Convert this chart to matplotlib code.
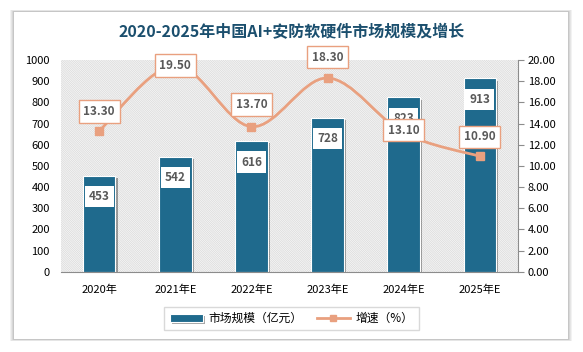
import matplotlib
matplotlib.use("Agg")
import matplotlib.pyplot as plt
import matplotlib.patheffects as pe
from matplotlib.patches import Rectangle
from matplotlib.path import Path
from matplotlib.patches import PathPatch
import numpy as np

plt.rcParams['font.family'] = ['Noto Sans CJK SC', 'DejaVu Sans']
plt.rcParams['hatch.linewidth'] = 0.5

categories = ['2020年', '2021年E', '2022年E', '2023年E', '2024年E', '2025年E']
market_size = [453, 542, 616, 728, 823, 913]
growth = [13.30, 19.50, 13.70, 18.30, 13.10, 10.90]

bar_color = '#1F6A8D'
line_color = '#E9A07F'
label_gray = '#595959'

fig = plt.figure(figsize=(5.83, 3.52), dpi=100)
fig.patch.set_facecolor('white')

# card with soft shadow
for i, a in enumerate([0.05, 0.05, 0.06, 0.08]):
    off = (4 - i) / 583
    fig.patches.append(Rectangle((14 / 583 - off, 13 / 352 - off), 554 / 583 + 2 * off, 327 / 352 + 2 * off,
                                 transform=fig.transFigure, facecolor='black', alpha=a, edgecolor='none', zorder=0))
fig.patches.append(Rectangle((14 / 583, 13 / 352), 554 / 583, 327 / 352, transform=fig.transFigure,
                             facecolor='white', edgecolor='none', zorder=1))

ax = fig.add_axes([61 / 583, 1 - 271.7 / 352, 457 / 583, 211.7 / 352])
ax.set_zorder(2)
ax.patch.set_visible(False)
bg = Rectangle((0, 0), 1, 1, transform=ax.transAxes, facecolor='white', edgecolor='#d6d6d6',
               hatch='\\' * 18, linewidth=0, zorder=0)
ax.add_patch(bg)

x = np.arange(len(categories))
bars = ax.bar(x, market_size, width=0.43, color=bar_color, edgecolor='white', linewidth=0.8, zorder=2,
              label='市场规模（亿元）')
for b in bars:
    b.set_path_effects([pe.SimplePatchShadow(offset=(1.5, -1.5), shadow_rgbFace='black', alpha=0.35), pe.Normal()])
for xi, v in zip(x, market_size):
    ax.annotate(f'{v}', (xi, v), xytext=(0, -15), textcoords='offset points', ha='center', va='center',
                fontsize=8.5, fontweight='bold', color=label_gray, zorder=5,
                bbox=dict(boxstyle='square,pad=0.35', facecolor='white', edgecolor='none'))

ax.set_xlim(-0.5, len(categories) - 0.5)
ax.set_ylim(0, 1000)
ax.set_yticks(range(0, 1001, 100))
ax.set_xticks(x)
ax.set_xticklabels(categories)
ax.tick_params(axis='y', length=0, labelsize=8, pad=8, colors='#000000')
ax.tick_params(axis='x', length=0, labelsize=8, pad=9)
for s in ['top', 'left', 'right']:
    ax.spines[s].set_visible(False)
ax.spines['bottom'].set_color('#8c8c8c')

ax2 = ax.twinx()
ax2.set_ylim(0, 20)
ax2.set_yticks(np.arange(0, 20.1, 2))
ax2.set_yticklabels([f'{t:.2f}' for t in np.arange(0, 20.1, 2)])
ax2.tick_params(axis='y', direction='out', length=4, color='#8c8c8c', labelsize=8, pad=3)
for s in ['top', 'left', 'bottom']:
    ax2.spines[s].set_visible(False)
ax2.spines['right'].set_color('#8c8c8c')

# smoothed line through the points (catmull-rom as bezier segments)
pts = np.column_stack([x, growth]).astype(float)
verts = [tuple(pts[0])]
codes = [Path.MOVETO]
n = len(pts)
for i in range(n - 1):
    p0 = pts[max(i - 1, 0)]
    p1 = pts[i]
    p2 = pts[i + 1]
    p3 = pts[min(i + 2, n - 1)]
    c1 = p1 + (p2 - p0) / 6
    c2 = p2 - (p3 - p1) / 6
    verts += [tuple(c1), tuple(c2), tuple(p2)]
    codes += [Path.CURVE4] * 3
ax2.add_patch(PathPatch(Path(verts, codes), facecolor='none', edgecolor=line_color, linewidth=2, zorder=3))
ax2.plot(x, growth, linestyle='none', marker='s', markersize=6, color=line_color, zorder=4)

offsets = [14, 0, 16, 15, 2, 14]
for xi, v, off in zip(x, growth, offsets):
    ax2.annotate(f'{v:.2f}', (xi, v), xytext=(0, off), textcoords='offset points', ha='center', va='center',
                 fontsize=8.5, fontweight='bold', color=label_gray, zorder=6,
                 bbox=dict(boxstyle='square,pad=0.4', facecolor='white', edgecolor=line_color, linewidth=1))

line_handle = plt.Line2D([], [], color=line_color, linewidth=2, marker='s', markersize=5)
fig.legend([bars, line_handle], ['市场规模（亿元）', '增速（%）'], loc='center', bbox_to_anchor=(0.5, 0.095),
           ncol=2, frameon=True, fancybox=False, edgecolor='#d0d0d0', fontsize=8.5, handlelength=2.8,
           columnspacing=1.2, handletextpad=0.5, borderpad=0.45)

fig.text(0.5, 1 - 32 / 352, '2020-2025年中国AI+安防软硬件市场规模及增长', ha='center', va='center',
         fontsize=11.5, fontweight='bold', color='#1B4F6E', zorder=5)

fig.savefig('out.png', dpi=100)
